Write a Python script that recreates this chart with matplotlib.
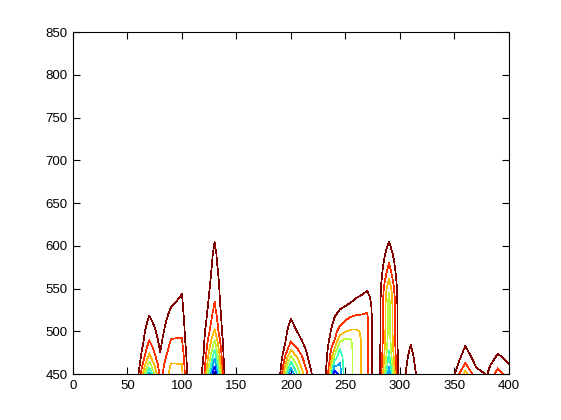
import numpy as np
import matplotlib
matplotlib.use("Agg")
import matplotlib.pyplot as plt

plt.rcParams["font.family"] = ["Liberation Sans", "DejaVu Sans"]

# grid: time (x) and wavelength (y); finer x steps around the wide bump near 250
x_grid = list(range(0, 231, 10)) + list(range(235, 280, 5)) + list(range(280, 401, 10))
y_grid = list(range(450, 621, 10))

# intensity columns, listed from y=450 upward (missing = 0)
bump_x = [60, 70, 80, 90, 100, 110, 120, 130,
          190, 200, 210, 220,
          235, 240, 245, 250, 255, 260, 265, 270, 275,
          290, 310, 350, 360, 370, 380, 390, 400]
bump_z = [
    [0.9, 0.5, 0.3, 0.1],
    [6.3, 4.6, 3.3, 2.6, 1.97, 1.65, 1.25, 0.95, 0.7, 0.5, 0.3, 0.1],
    [1.6, 1.4, 1.15, 0.9, 0.75, 0.6, 0.5, 0.4, 0.3, 0.2, 0.1],
    [3.4, 3.1, 2.7, 2.35, 2.03, 1.75, 1.45, 1.2, 0.95, 0.7, 0.5, 0.3, 0.1],
    [3.3, 3.05, 2.75, 2.4, 2.05, 1.85, 1.65, 1.45, 1.25, 1.07, 0.9, 0.7, 0.5, 0.3, 0.1],
    [-1.5] * 18,
    [1.6, 1.3, 1.1, 0.9, 0.8, 0.7, 0.5, 0.4, 0.3, 0.2, 0.1],
    [8.3, 6.8, 5.8, 4.8, 3.95, 3.1, 2.75, 2.4, 2.1, 1.9, 1.75, 1.6, 1.45, 1.3, 1.2, 1.05, 0.95],
    [0.9, 0.5, 0.2],
    [7.1, 5.6, 4.2, 2.7, 1.85, 1.5, 1.15, 0.8, 0.5, 0.25, 0.05],
    [3.4, 2.7, 2.1, 1.5, 0.98, 0.6, 0.3, 0.1],
    [0.8, 0.4, 0.1],
    [2.6, 1.95, 1.6, 1.3, 0.98, 0.7, 0.4, 0.15],
    [7.8, 5.8, 4.25, 2.95, 1.97, 1.65, 1.25, 0.85, 0.55, 0.3, 0.1],
    [6.6, 6.15, 5.7, 4.97, 3.7, 2.4, 1.8, 1.25, 0.8, 0.45, 0.15],
    [4.2, 4.2, 4.2, 4.2, 4.18, 2.95, 2.15, 1.6, 0.97, 0.6, 0.3, 0.05],
    [4.2, 4.2, 4.2, 4.2, 4.05, 3.15, 2.35, 1.85, 1.15, 0.75, 0.45, 0.15],
    [3.5, 3.5, 3.5, 3.5, 3.5, 3.15, 2.45, 1.95, 1.45, 0.95, 0.55, 0.25, 0.05],
    [2.9, 2.9, 2.9, 2.9, 2.9, 2.9, 2.5, 1.98, 1.6, 1.1, 0.7, 0.35, 0.1],
    [2.3, 2.3, 2.3, 2.3, 2.3, 2.3, 2.3, 2.05, 1.7, 1.25, 0.9, 0.5, 0.2],
    [0.78, 0.78, 0.78, 0.78, 0.78, 0.78, 0.78, 0.78, 0.78, 0.78, 0.6, 0.4, 0.2],
    [6.6, 5.9, 5.3, 4.9, 4.6, 4.5, 4.4, 4.4, 4.4, 4.2, 3.8, 3.1, 2.5, 1.98, 1.55, 1.15, 0.8],
    [1.9, 1.6, 1.35, 1.1, 0.85, 0.6, 0.35, 0.1],
    [0.9, 0.5, 0.2],
    [3.4, 2.2, 1.55, 1.1, 0.75, 0.45, 0.2],
    [1.3, 0.9, 0.55, 0.25],
    [0.95, 0.7, 0.4, 0.15],
    [2.5, 1.75, 1.15, 0.75, 0.4, 0.1],
    [1.4, 1.05, 0.7, 0.4, 0.1],
]

levels = [1, 2, 3, 4, 5, 6, 7, 8]

Z = np.zeros((len(y_grid), len(x_grid)))
for x, col in zip(bump_x, bump_z):
    Z[:len(col), x_grid.index(x)] = col

fig = plt.figure(figsize=(5.61, 4.2), dpi=100)
ax = fig.add_axes([0.130, 0.1095, 0.777, 0.814])

ax.contour(x_grid, y_grid, Z, levels=levels, cmap="jet_r", vmin=1, vmax=8,
           linewidths=0.5, antialiased=False)

ax.set_xlim(0, 400)
ax.set_ylim(450, 850)
ax.set_xticks(range(0, 401, 50))
ax.set_yticks(range(450, 851, 50))
ax.tick_params(direction="in", top=True, right=True, length=5, width=0.8,
               labelsize=9.5, pad=4)
for s in ax.spines.values():
    s.set_linewidth(0.8)

fig.savefig("out.png", dpi=100)
